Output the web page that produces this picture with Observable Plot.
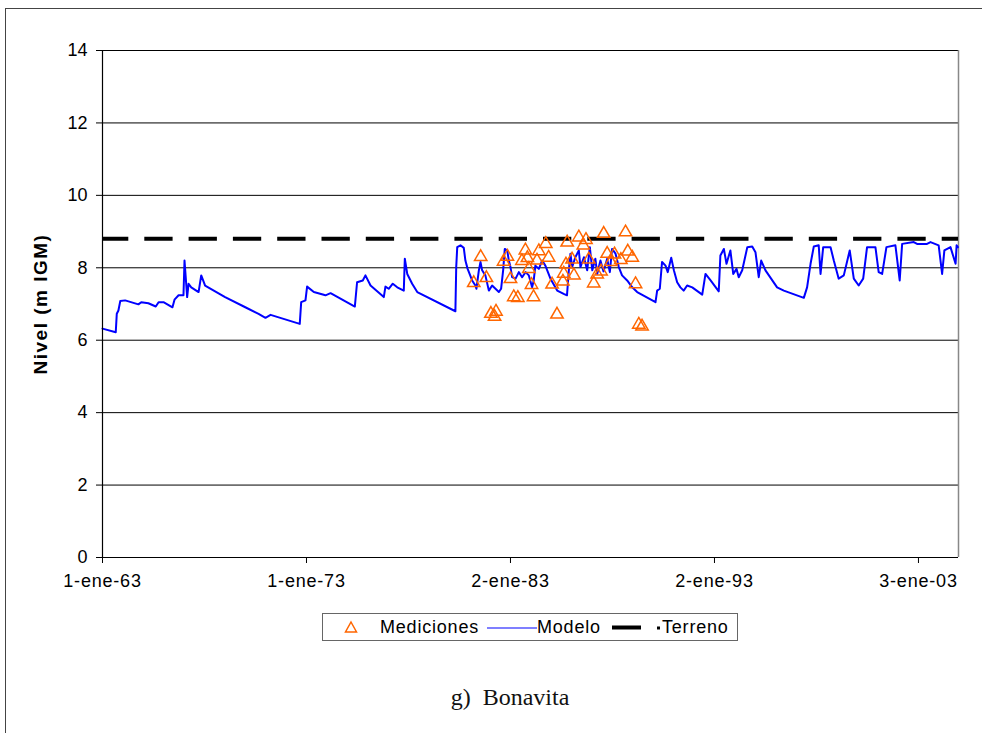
<!DOCTYPE html>
<html>
<head>
<meta charset="utf-8">
<script src="https://cdn.jsdelivr.net/npm/d3@7"></script>
<script src="https://cdn.jsdelivr.net/npm/@observablehq/plot@0.6"></script>
<style>
  html, body { margin: 0; padding: 0; background: #fff; }
  #wrap { position: relative; width: 982px; height: 733px; overflow: hidden; font-family: "Liberation Sans", Arial, sans-serif; }
  #frame { position: absolute; left: 5px; top: 8px; width: 990px; height: 740px; border-left: 1.5px solid #444; border-top: 1.5px solid #444; }
  #chart { position: absolute; left: 0; top: 0; }
  #legend { position: absolute; left: 322px; top: 613px; width: 416px; height: 28px; border: 1px solid #666; box-sizing: border-box; font-size: 18px; letter-spacing: 0.8px; color: #000; }
  #legend .it { position: absolute; top: 3px; line-height: 21px; }
  #caption { position: absolute; left: 0; width: 1020px; top: 684px; text-align: center; font-family: "Liberation Serif", "DejaVu Serif", serif; font-size: 24px; color: #111; white-space: pre; }
</style>
</head>
<body>
<div id="wrap">
  <div id="frame"></div>
  <div id="chart"></div>
  <div id="legend">
    <svg class="it" style="left:20px;top:6px" width="16" height="16"><path d="M8,2 L13.5,12 L2.5,12 Z" fill="none" stroke="#ff6600" stroke-width="1.5"/></svg>
    <span class="it" style="left:57px">Mediciones</span>
    <svg class="it" style="left:164px;top:13px" width="50" height="3"><line x1="0" x2="50" y1="1" y2="1" stroke="#0000ff" stroke-width="1.2"/></svg>
    <span class="it" style="left:214px">Modelo</span>
    <svg class="it" style="left:289px;top:11px" width="50" height="6"><rect x="0" y="0.5" width="29" height="4" fill="#000"/><rect x="45" y="1.5" width="3" height="3" fill="#000"/></svg>
    <span class="it" style="left:339px">Terreno</span>
  </div>
  <div id="caption">g)  Bonavita</div>
</div>
<script>
// ---- data ----
const modelYear = [1963.00,1963.65,1963.70,1963.78,1963.87,1964.11,1964.76,1964.90,1965.25,1965.61,1965.75,1965.99,1966.43,1966.53,1966.73,1966.97,1967.02,1967.08,1967.15,1967.22,1967.35,1967.71,1967.84,1968.03,1969.01,1970.00,1970.65,1970.99,1971.24,1972.67,1972.74,1972.95,1973.03,1973.36,1973.93,1974.18,1975.37,1975.48,1975.76,1975.89,1976.14,1976.79,1976.87,1977.03,1977.23,1977.45,1977.77,1977.82,1977.94,1978.18,1978.43,1980.30,1980.34,1980.39,1980.55,1980.71,1980.79,1980.90,1981.12,1981.28,1981.33,1981.45,1981.53,1981.61,1981.77,1981.94,1982.10,1982.43,1982.54,1982.64,1982.72,1982.84,1982.92,1983.00,1983.08,1983.25,1983.41,1983.57,1983.74,1983.90,1984.06,1984.14,1984.22,1984.39,1984.55,1984.71,1984.96,1985.29,1985.61,1985.77,1985.86,1985.94,1986.02,1986.18,1986.35,1986.43,1986.60,1986.76,1986.89,1987.01,1987.16,1987.25,1987.41,1987.56,1987.74,1987.87,1987.98,1988.15,1988.31,1988.47,1988.72,1988.97,1989.21,1990.11,1990.19,1990.32,1990.43,1990.60,1990.71,1990.88,1991.01,1991.17,1991.33,1991.49,1991.66,1991.91,1992.40,1992.56,1992.81,1993.21,1993.29,1993.46,1993.59,1993.78,1993.92,1994.08,1994.19,1994.36,1994.61,1994.85,1995.01,1995.17,1995.29,1995.50,1996.07,1996.40,1997.38,1997.54,1997.71,1997.87,1998.11,1998.20,1998.33,1998.69,1998.85,1999.09,1999.34,1999.63,1999.83,2000.07,2000.29,2000.48,2000.89,2001.05,2001.22,2001.43,2001.87,2002.08,2002.20,2002.77,2002.93,2003.42,2003.59,2003.99,2004.16,2004.27,2004.57,2004.82,2004.87,2004.93];
const modelLevel = [6.32,6.22,6.73,6.82,7.08,7.10,6.99,7.05,7.02,6.93,7.05,7.05,6.91,7.12,7.24,7.24,8.20,7.74,7.19,7.56,7.46,7.33,7.79,7.51,7.19,6.91,6.73,6.62,6.70,6.45,7.05,7.10,7.48,7.33,7.24,7.30,6.93,7.60,7.65,7.79,7.51,7.19,7.48,7.42,7.56,7.46,7.37,8.25,7.83,7.56,7.33,6.80,8.02,8.57,8.62,8.55,8.20,7.97,7.65,7.51,7.42,7.93,8.16,7.93,7.79,7.37,7.51,7.33,7.42,7.93,8.52,8.48,8.20,8.02,7.74,7.70,7.88,7.74,7.88,7.79,7.46,7.65,8.06,7.97,8.20,8.06,7.70,7.37,7.28,7.24,7.93,8.39,8.02,8.29,8.48,8.02,8.29,7.93,8.57,7.93,8.25,7.83,8.20,7.90,8.25,7.88,8.52,8.39,8.02,7.79,7.65,7.46,7.33,7.05,7.37,7.42,8.16,8.06,7.88,8.28,7.93,7.60,7.46,7.37,7.51,7.46,7.26,7.83,7.65,7.35,8.34,8.52,8.11,8.48,7.83,7.97,7.74,7.93,8.57,8.59,8.43,7.74,8.20,7.93,7.46,7.37,7.17,7.46,8.11,8.59,8.62,7.83,8.57,8.57,8.20,7.70,7.79,8.48,7.70,7.51,7.70,8.57,8.57,7.88,7.83,8.57,8.62,7.65,8.66,8.71,8.66,8.66,8.71,8.62,7.83,8.48,8.57,8.11,8.62,8.57];
const medYear = [1981.20,1981.54,1981.82,1982.04,1982.29,1982.22,1982.66,1982.85,1983.00,1983.16,1983.36,1983.73,1983.56,1983.83,1983.90,1984.03,1984.13,1984.39,1984.30,1984.73,1984.87,1985.04,1985.28,1985.57,1985.61,1985.72,1985.78,1986.02,1986.11,1986.35,1986.57,1986.70,1986.84,1987.08,1987.25,1987.44,1987.57,1987.74,1987.92,1988.10,1988.41,1988.64,1988.75,1988.97,1989.13,1989.29,1989.45];
const medLevel = [7.58,8.30,7.72,6.73,6.79,6.65,8.17,8.31,7.69,7.19,7.17,8.48,8.19,8.27,7.97,7.53,7.19,8.46,8.20,8.66,8.28,7.54,6.71,7.62,7.84,8.09,8.70,8.23,7.79,8.84,8.62,8.77,8.23,7.57,7.82,7.90,8.94,8.39,8.16,8.37,8.22,8.98,8.45,8.28,7.55,6.43,6.38];
const terreno = 8.8;
const yTicks = [0, 2, 4, 6, 8, 10, 12, 14];
const xTickDates = ["1963-01-01", "1973-01-01", "1983-01-02", "1993-01-02", "2003-01-03"];
const xTickLabels = ["1-ene-63", "1-ene-73", "2-ene-83", "2-ene-93", "3-ene-03"];
const xStart = "1963-01-01", xEnd = "2004-12-20";
const yLabel = "Nivel (m IGM)";

// ---- build ----
const t0 = Date.UTC(1963, 0, 1);
const toDate = y => new Date(t0 + (y - 1963) * 365.3 * 864e5);
const model = modelYear.map((y, i) => ({date: toDate(y), level: modelLevel[i]}));
const med = medYear.map((y, i) => ({date: toDate(y), level: medLevel[i]}));
const tickDates = xTickDates.map(d => new Date(d));
const labelOf = d => { const i = tickDates.findIndex(t => Math.abs(t - d) < 864e5); return i >= 0 ? xTickLabels[i] : ""; };
const domainX = [new Date(xStart), new Date(xEnd)];

const chart = Plot.plot({
  width: 982,
  height: 600,
  marginLeft: 102,
  marginRight: 24,
  marginTop: 50,
  marginBottom: 43,
  style: {fontFamily: "'Liberation Sans', Arial, sans-serif", fontSize: "18px", color: "#000", background: "transparent"},
  x: {type: "utc", domain: domainX},
  y: {domain: [0, 14]},
  marks: [
    Plot.ruleY(yTicks.filter(v => v > 0), {stroke: "#000", strokeWidth: 1}),
    Plot.ruleX([domainX[1]], {stroke: "#888", strokeWidth: 1.5}),
    Plot.ruleY([terreno], {stroke: "#000", strokeWidth: 4, strokeDasharray: "28.3,16", strokeDashoffset: 2}),
    Plot.line(model, {x: "date", y: "level", stroke: "#0000ff", strokeWidth: 2, curve: "linear"}),
    Plot.dot(med, {x: "date", y: "level", symbol: "triangle", r: 4.6, stroke: "#ff6600", strokeWidth: 1.5, fill: "none"}),
    Plot.ruleX([domainX[0]], {stroke: "#000", strokeWidth: 1.2}),
    Plot.ruleY([0], {stroke: "#000", strokeWidth: 1.2}),
    Plot.axisY({ticks: yTicks, tickSize: 6, tickPadding: 9, label: null, tickFormat: d => String(d)}),
    Plot.axisX({ticks: tickDates, tickSize: 6, tickPadding: 11, label: null, tickFormat: labelOf}),
    Plot.text([yLabel], {frameAnchor: "left", dx: -62, rotate: -90, textAnchor: "middle", fontWeight: "bold", fontSize: 19, fill: "#000"})
  ]
});
d3.select(chart).selectAll('g[aria-label="x-axis tick label"] text').style("letter-spacing", "0.8px");
d3.select(chart).selectAll('g[aria-label="text"] text').style("letter-spacing", "1.5px");
document.getElementById("chart").appendChild(chart);
</script>
</body>
</html>
